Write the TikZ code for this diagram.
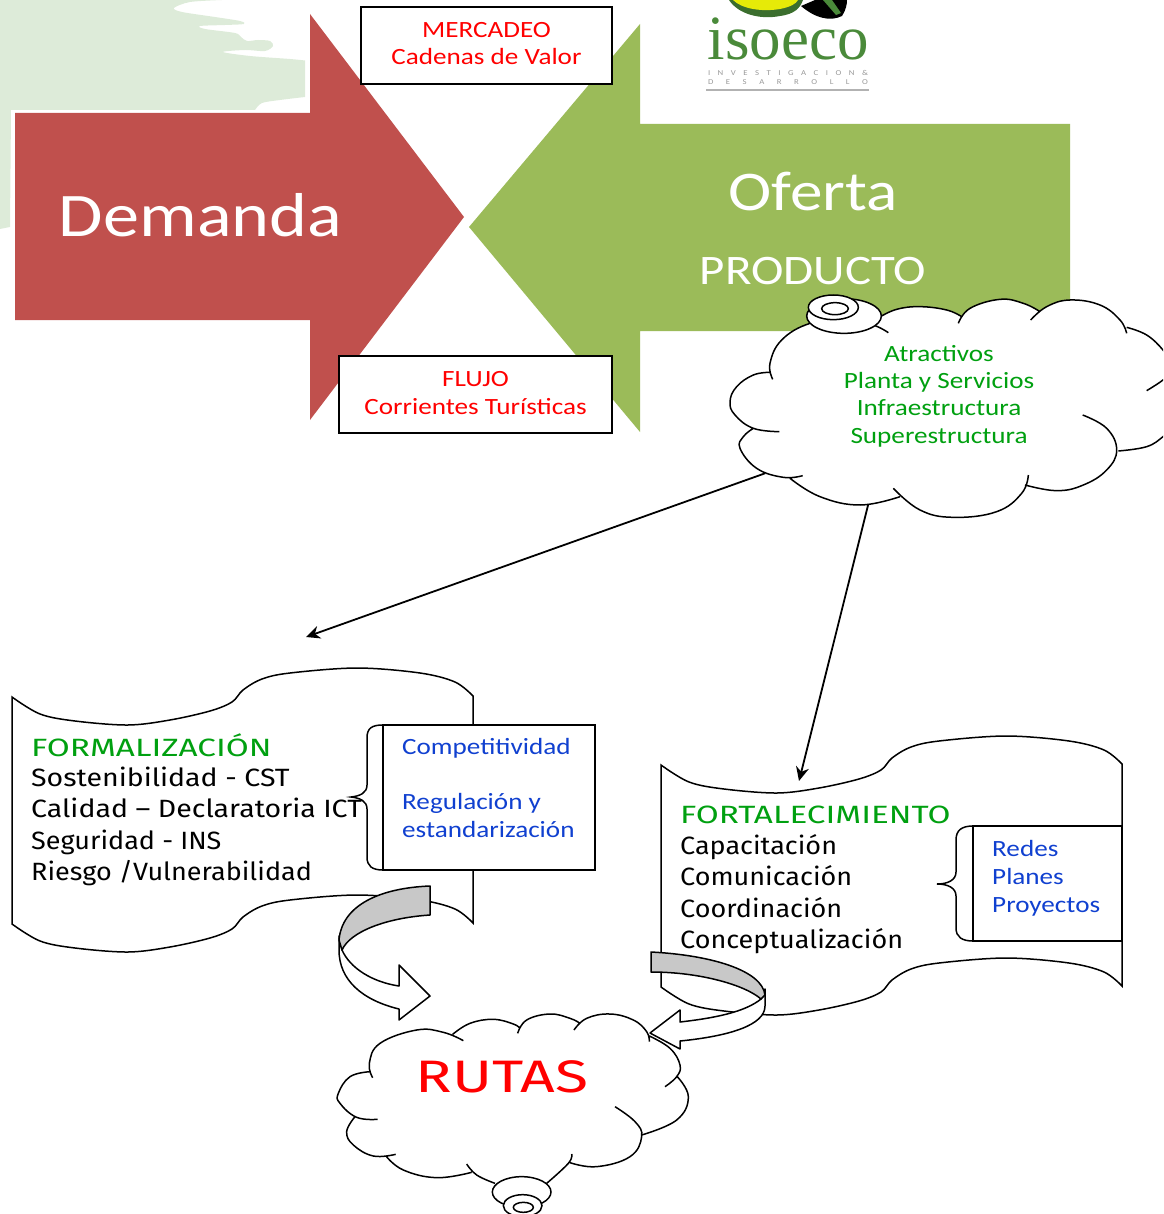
\documentclass[tikz,border=0pt]{standalone}
\usepackage{fontspec}
\setmainfont[FakeStretch=1.165]{Carlito}
\newfontfamily\comicf[FakeStretch=1.08]{Fira Sans}
\newfontfamily\comicg[FakeStretch=1.14]{Fira Sans}
\newfontfamily\comich[FakeStretch=1.33]{Fira Sans}
\newfontfamily\logof{Liberation Serif}
\usetikzlibrary{arrows.meta}
\definecolor{redarrow}{HTML}{C0504D}
\definecolor{greenarrow}{HTML}{9BBB59}
\definecolor{wash}{HTML}{DDEBD9}
\definecolor{txtgreen}{HTML}{00A010}
\definecolor{txtblue}{HTML}{1040D0}
\definecolor{logogreen}{HTML}{4A8A3A}
\definecolor{bandgray}{HTML}{C8C8C8}
\tikzset{
  outline/.style={draw=black,line width=1.5pt,fill=white},
  curve/.style={draw=black,line width=1.5pt},
  labelbox/.style={draw=black,line width=1.4pt,fill=white},
  fs/.style={inner sep=0pt,font=\fontsize{#1}{#1}\selectfont},
  hand/.style={inner sep=0pt,anchor=base west,font=\comicf\fontsize{25}{25}\selectfont},
  handwide/.style={inner sep=0pt,anchor=base west,font=\comicg\fontsize{25}{25}\selectfont},
  handcaps/.style={inner sep=0pt,anchor=base west,text=txtgreen,font=\comich\fontsize{25}{25}\selectfont},
  plain/.style={inner sep=0pt,anchor=base west,text=txtblue,font=\fontsize{23.3}{23.3}\selectfont},
  redtext/.style={inner sep=0pt,align=center,text=red,font=\fontsize{23.3}{27.5}\selectfont},
  pointer/.style={draw=black,line width=1.8pt,-{Stealth[length=14pt,width=13pt]}},
  bandfill/.style={draw=black,line width=1.5pt,fill=bandgray,line join=round},
  bodyfill/.style={draw=black,line width=1.5pt,fill=white,line join=round}
}
\def\cloudA#1{
 plot[smooth,tension=.7] coordinates{(158,298)(150,250)(185,180)(270,130)(380,115)(460,135)(505,158)} #1
 plot[smooth,tension=.7] coordinates{(478,112)(530,88)(600,80)(680,90)(725,110)} #1
 plot[smooth,tension=.7] coordinates{(715,130)(750,85)(840,58)(910,70)(960,95)} #1
 plot[smooth,tension=.7] coordinates{(932,120)(980,80)(1050,60)(1140,75)(1200,120)(1220,160)} #1
 plot[smooth,tension=.7] coordinates{(1220,142)(1280,165)(1329,210)(1345,240)} #1
 plot[smooth,tension=.7] coordinates{(1360,270)(1329,300)(1280,332)} #1
 plot[smooth,tension=.7] coordinates{(1360,440)(1329,470)(1280,500)(1195,513)} #1
 plot[smooth,tension=.7] coordinates{(1088,405)(1160,445)(1190,510)(1160,570)(1090,615)(1010,632)(915,615)} #1
 plot[smooth,tension=.7] coordinates{(925,585)(905,640)(830,695)(700,712)(600,690)(520,625)} #1
 plot[smooth,tension=.7] coordinates{(540,650)(420,675)(300,650)(210,595)} #1
 plot[smooth,tension=.7] coordinates{(248,587)(190,592)(110,565)(60,505)(70,470)(100,445)} #1
 plot[smooth,tension=.7] coordinates{(178,455)(100,445)(45,405)(30,365)(50,320)(100,285)(150,277)}
}
\def\cloudB#1{
 plot[smooth,tension=.7] coordinates{(128,233)(118,190)(150,130)(260,90)(340,97)(400,122)} #1
 plot[smooth,tension=.7] coordinates{(368,103)(420,70)(490,58)(550,72)(570,85)} #1
 plot[smooth,tension=.7] coordinates{(563,100)(590,60)(660,42)(720,55)(750,70)} #1
 plot[smooth,tension=.7] coordinates{(732,90)(770,55)(840,42)(910,60)(950,95)(958,125)} #1
 plot[smooth,tension=.7] coordinates{(958,108)(1020,145)(1050,195)(1040,230)(1005,260)} #1
 plot[smooth,tension=.7] coordinates{(1040,228)(1075,290)(1040,360)(935,405)} #1
 plot[smooth,tension=.7] coordinates{(855,320)(915,365)(935,410)(900,470)(800,500)(720,488)} #1
 plot[smooth,tension=.7] coordinates{(725,462)(715,490)(650,550)} #1
 plot[smooth,tension=.7] coordinates{(495,550)(440,525)(410,492)} #1
 plot[smooth,tension=.7] coordinates{(425,517)(320,533)(220,510)(168,468)} #1
 plot[smooth,tension=.7] coordinates{(197,463)(130,468)(70,435)(50,395)(75,350)} #1
 plot[smooth,tension=.7] coordinates{(143,358)(80,352)(30,310)(25,280)(60,230)(120,215)}
}
\def\docshape#1{\draw[outline]
 plot[smooth,tension=.55] coordinates{(12,697)(40,714)(75,721)(128,725)(170,720)(210,711)(232,702)(243,690)(262,679)(290,673)(357,668)(420,673)(455,682)(473,696)}
 -- plot[smooth,tension=.55] coordinates{(473,696+#1)(455,682+#1)(420,673+#1)(357,668+#1)(290,673+#1)(262,679+#1)(243,690+#1)(232,702+#1)(210,711+#1)(170,720+#1)(128,725+#1)(75,721+#1)(40,714+#1)(12,697+#1)}
 -- cycle;}
\begin{document}
\begin{tikzpicture}[x=1pt,y=-1pt]
\useasboundingbox (0,0) rectangle (1163,1214);
\clip (0,0) rectangle (1163,1214);
% watercolour wash
\fill[wash] (0,0) -- (222,0)
  -- plot[smooth,tension=.5] coordinates{(222,0)(190,2)(174,8)(182,12)(215,17)(240,21)(244,24)(225,25)(200,26)(205,29)(235,33)(241,37)(247,41)(258,40)(270,41)(273,46)(265,51)(245,50)(223,52)(250,56)(290,59)(305,60.5)}
  -- (305,97) -- plot[smooth,tension=.5] coordinates{(305,97)(280,100)(262,103)(255,110)}
  -- (11,110) -- (10,227) -- (0,229) -- cycle;
% logo
\fill[logogreen!80!black] (729,0) .. controls (738,14) and (760,20) .. (780,16) .. controls (795,14) and (800,8) .. (803,0) -- cycle;
\fill[yellow!90!green] (733,0) .. controls (742,9) and (762,12) .. (780,9) .. controls (790,7) and (796,4) .. (798,0) -- cycle;
\fill[black] (801,6) .. controls (815,18) and (830,22) .. (842,16) .. controls (846,10) and (847,4) .. (847,0) -- (815,0) -- cycle;
\fill[logogreen] (823,0) -- (836,15) -- (841,13) -- (832,0) -- cycle;
\node[inner sep=0pt,anchor=base,text=logogreen,font=\logof\fontsize{63}{63}\selectfont] (logoname) at (788,60) {isoeco};
\node[inner sep=0pt,anchor=base,text=gray!80,font=\fontsize{7.5}{8}\selectfont] (logoa) at (788,76) {\makebox[160pt][s]{I\hfil N\hfil V\hfil E\hfil S\hfil T\hfil I\hfil G\hfil A\hfil C\hfil I\hfil O\hfil N\hfil \&}};
\node[inner sep=0pt,anchor=base,text=gray!80,font=\fontsize{7.5}{8}\selectfont] (logob) at (788,85) {\makebox[160pt][s]{D\hfil E\hfil S\hfil A\hfil R\hfil R\hfil O\hfil L\hfil L\hfil O}};
\fill[gray!60] (706,89) rectangle (869,91);
% big arrows
\fill[redarrow] (15,113) -- (310,113) -- (310,14) -- (464,217) -- (310,420) -- (310,320) -- (15,320) -- cycle;
\fill[greenarrow] (1070,124) -- (640,124) -- (640,24) -- (469,227) -- (640,432) -- (640,331) -- (1070,331) -- cycle;
\node[fs=62,text=white,anchor=base] (demanda) at (200.5,237) {Demanda};
\node[fs=56,text=white,anchor=base] (oferta) at (813,211) {Oferta};
\node[fs=42,text=white,anchor=base] (producto) at (813,284) {PRODUCTO};
% boxes
\node[labelbox,minimum width=251pt,minimum height=77pt,inner sep=0pt] (mercadeobox) at (486.5,45.5) {};
\node[redtext] (mercadeo) at (486.5,43.5) {MERCADEO\\Cadenas de Valor};
\node[labelbox,minimum width=273pt,minimum height=77pt,inner sep=0pt] (flujobox) at (475.5,394.5) {};
\node[redtext] (flujo) at (475.5,393) {FLUJO\\Corrientes Turísticas};
% upper cloud
\begin{scope}[shift={(720,280)},scale=1/3]
\fill[white] \cloudA{--} -- cycle;
\fill[white] (460,135) -- (505,158) -- (530,88) -- cycle;
\draw[curve] \cloudA{};
\draw[outline] (372,108) ellipse [x radius=112,y radius=52];
\draw[outline] (340,82) ellipse [x radius=75,y radius=37];
\draw[curve] (345,86) ellipse [x radius=40,y radius=18];
\coordinate (cloudleft) at (135,580);
\coordinate (cloudbottom) at (445,672);
\end{scope}
\node[inner sep=0pt,align=center,text=txtgreen,font=\fontsize{23.3}{27.4}\selectfont] (cloudtext) at (939,396) {Atractivos\\Planta y Servicios\\Infraestructura\\Superestructura};
% documents
\docshape{227}
\begin{scope}[shift={(649,68)}]
\docshape{222}
\end{scope}
\coordinate (formtarget) at (306,637);
\coordinate (forttarget) at (799,781);
\draw[pointer] (cloudleft) -- (formtarget);
\draw[pointer] (cloudbottom) -- (forttarget);
% left document text
\node[handcaps] (formt) at (31,756) {FORMALIZACIÓN};
\node[handwide] (form1) at (31,786) {Sostenibilidad - CST};
\node[handwide] (form2) at (31,817) {Calidad – Declaratoria ICT};
\node[hand] (form3) at (31,849) {Seguridad - INS};
\node[hand] (form4) at (31,880) {Riesgo /Vulnerabilidad};
\draw[curve] (383,725) .. controls (372,725) and (367,728) .. (367,738) -- (367,785) .. controls (367,793) and (360,796) .. (351,797) .. controls (360,798) and (367,801) .. (367,809) -- (367,857) .. controls (367,866) and (372,870) .. (383,870);
\node[labelbox,minimum width=212pt,minimum height=145pt,inner sep=0pt] (boxa) at (489,797.5) {};
\node[plain] (boxa1) at (402,754) {Competitividad};
\node[plain] (boxa2) at (402,809) {Regulación y};
\node[plain] (boxa3) at (402,837) {estandarización};
% right document text
\node[handcaps] (fortt) at (680,823) {FORTALECIMIENTO};
\node[hand] (fort1) at (680,854) {Capacitación};
\node[hand] (fort2) at (680,885) {Comunicación};
\node[hand] (fort3) at (680,917) {Coordinación};
\node[hand] (fort4) at (680,948) {Conceptualización};
\draw[curve] (973,826) .. controls (962,826) and (956,830) .. (956,840) -- (956,872) .. controls (956,880) and (948,884) .. (937,884) .. controls (948,884) and (956,888) .. (956,896) -- (956,928) .. controls (956,937) and (962,941) .. (973,941);
\node[labelbox,minimum width=149pt,minimum height=115pt,inner sep=0pt] (boxb) at (1047.5,883.5) {};
\node[plain] (boxb1) at (992,856) {Redes};
\node[plain] (boxb2) at (992,884) {Planes};
\node[plain] (boxb3) at (992,912) {Proyectos};
% curved arrow left
\draw[bodyfill] (342,950) .. controls (350,968) and (372,982) .. (399,986) -- (399,965) -- (430,996) -- (399,1020) -- (399,1009) .. controls (362,1000) and (339,980) .. (339,950) -- (339,936) -- cycle;
\draw[bandfill] (430,886) .. controls (380,888) and (342,905) .. (339,940) -- (342,950) .. controls (350,932) and (385,918) .. (430,915) -- cycle;
% curved arrow right
\draw[bodyfill] (761,999) .. controls (745,1012) and (715,1018) .. (680,1022) -- (680,1010) -- (650,1033) -- (680,1049) -- (680,1041) .. controls (730,1036) and (765,1025) .. (765,1006) -- (765,989) -- cycle;
\draw[bandfill] (651,952) .. controls (710,955) and (762,970) .. (765,995) -- (761,999) .. controls (745,985) and (700,972) .. (651,972) -- cycle;
% lower cloud
\begin{scope}[shift={(330,1000)},scale=1/3]
\fill[white] \cloudB{--} -- cycle;
\draw[curve] \cloudB{};
\draw[outline] (575,576) ellipse [x radius=88,y radius=46];
\draw[outline] (578,617) ellipse [x radius=58,y radius=33];
\draw[curve] (580,622) ellipse [x radius=30,y radius=15];
\end{scope}
\node[inner sep=0pt,anchor=base,text=red,font=\comich\fontsize{45.5}{45.5}\selectfont] (rutas) at (502,1092) {RUTAS};
\end{tikzpicture}
\end{document}
